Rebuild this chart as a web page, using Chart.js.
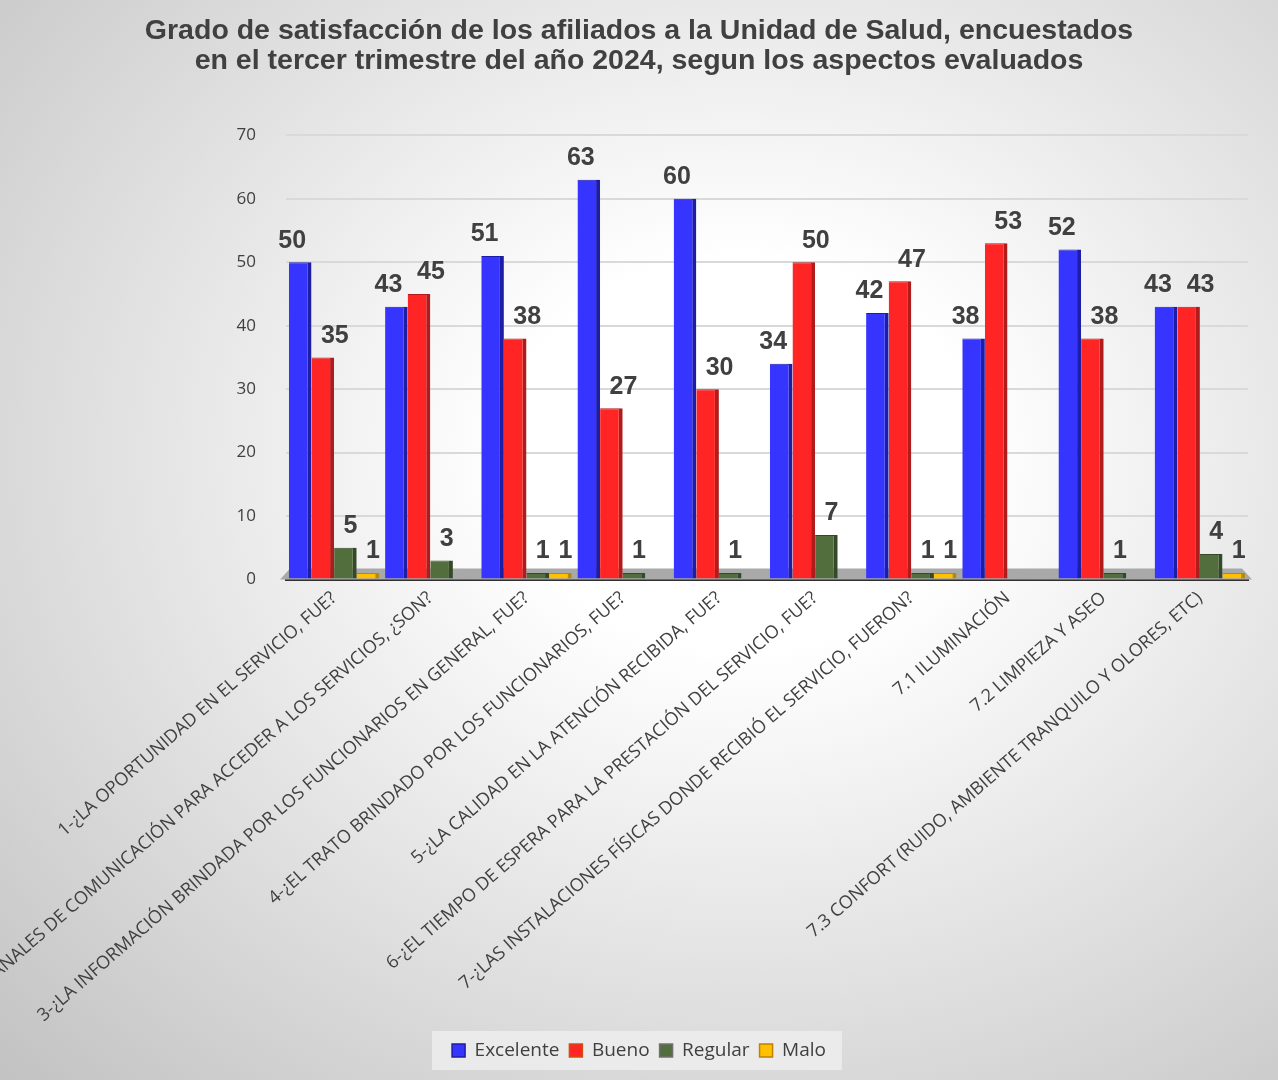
<!DOCTYPE html>
<html>
<head>
<meta charset="utf-8">
<script src="https://cdn.jsdelivr.net/npm/chart.js@4.4.1/dist/chart.umd.min.js"></script>
<style>
  html, body { margin: 0; padding: 0; }
  body {
    width: 1278px; height: 1080px; overflow: hidden;
    background: radial-gradient(ellipse at 58% 42%, #ffffff 22%, #c2c2c2 100%);
  }
  #wrap { position: relative; width: 1278px; height: 1080px; }
</style>
</head>
<body>
<div id="wrap"><canvas id="chart"></canvas></div>
<script>
// categories (aspectos evaluados)
const categories = [
  '1-¿LA OPORTUNIDAD EN EL SERVICIO, FUE?',
  '2-¿LOS CANALES DE COMUNICACIÓN PARA ACCEDER A LOS SERVICIOS, ¿SON?',
  '3-¿LA INFORMACIÓN BRINDADA POR LOS FUNCIONARIOS EN GENERAL, FUE?',
  '4-¿EL TRATO BRINDADO POR LOS FUNCIONARIOS, FUE?',
  '5-¿LA CALIDAD EN LA ATENCIÓN RECIBIDA, FUE?',
  '6-¿EL TIEMPO DE ESPERA PARA LA PRESTACIÓN DEL SERVICIO, FUE?',
  '7-¿LAS INSTALACIONES FÍSICAS DONDE RECIBIÓ EL SERVICIO, FUERON?',
  '7.1 ILUMINACIÓN',
  '7.2 LIMPIEZA Y ASEO',
  '7.3 CONFORT (RUIDO, AMBIENTE TRANQUILO Y OLORES, ETC)'
];

// series values (null = no response in that category)
const excelente = [50, 43, 51, 63, 60, 34, 42, 38, 52, 43];
const bueno     = [35, 45, 38, 27, 30, 50, 47, 53, 38, 43];
const regular   = [5, 3, 1, 1, 1, 7, 1, null, 1, 4];
const malo      = [1, null, 1, null, null, null, 1, null, null, 1];

const yTicks = [0, 10, 20, 30, 40, 50, 60, 70];

const textColor = '#404040';

// gray floor under the bars
const floorPlugin = {
  id: 'floor',
  beforeDatasetsDraw(chart) {
    const { ctx, chartArea } = chart;
    const y0 = chart.scales.y.getPixelForValue(0);
    ctx.save();
    ctx.fillStyle = '#a9a9a9';
    ctx.beginPath();
    ctx.moveTo(chartArea.left + 4, y0 - 11);
    ctx.lineTo(chartArea.right - 6, y0 - 11);
    ctx.lineTo(chartArea.right + 4, y0);
    ctx.lineTo(chartArea.left - 6, y0);
    ctx.closePath();
    ctx.fill();
    ctx.restore();
  }
};

// value labels above each bar (small horizontal nudge per series, like the original)
const labelNudge = [-8, 12, 5, 5];
const valueLabels = {
  id: 'valueLabels',
  afterDatasetsDraw(chart) {
    const { ctx } = chart;
    ctx.save();
    ctx.font = 'bold 25px "Liberation Sans", Arial, sans-serif';
    ctx.fillStyle = textColor;
    ctx.textAlign = 'center';
    ctx.textBaseline = 'bottom';
    chart.data.datasets.forEach((ds, i) => {
      const meta = chart.getDatasetMeta(i);
      meta.data.forEach((bar, j) => {
        const v = ds.data[j];
        if (v === null || v === undefined) return;
        ctx.fillText(String(v), bar.x + labelNudge[i], bar.y - 9);
      });
    });
    ctx.restore();
  }
};

// light box behind the legend
const legendBox = {
  id: 'legendBox',
  beforeDraw(chart) {
    const lg = chart.legend;
    if (!lg || !lg.legendHitBoxes.length) return;
    const boxes = lg.legendHitBoxes;
    const first = boxes[0], last = boxes[boxes.length - 1];
    const { ctx } = chart;
    ctx.save();
    ctx.fillStyle = 'rgba(236,236,236,0.9)';
    ctx.fillRect(first.left - 20, first.top - 10, last.left + last.width - first.left + 36, first.height + 20);
    ctx.restore();
  }
};

const ctx = document.getElementById('chart').getContext('2d');
const chart = new Chart(ctx, {
  type: 'bar',
  data: {
    labels: categories,
    datasets: [
      { label: 'Excelente', data: excelente, backgroundColor: '#3535ff', borderColor: '#1d1da8',
        borderWidth: { left: 0, right: 4, top: 1, bottom: 0 }, borderSkipped: 'bottom' },
      { label: 'Bueno', data: bueno, backgroundColor: '#ff2525', borderColor: '#b01c1c',
        borderWidth: { left: 0, right: 4, top: 1, bottom: 0 }, borderSkipped: 'bottom' },
      { label: 'Regular', data: regular, backgroundColor: '#526e3d', borderColor: '#34492a',
        borderWidth: { left: 0, right: 4, top: 1, bottom: 0 }, borderSkipped: 'bottom' },
      { label: 'Malo', data: malo, backgroundColor: '#ffc000', borderColor: '#b88a00',
        borderWidth: { left: 0, right: 4, top: 1, bottom: 0 }, borderSkipped: 'bottom' }
    ]
  },
  options: {
    responsive: true,
    maintainAspectRatio: false,
    animation: false,
    layout: { padding: { left: 30, right: 30, top: 8, bottom: 10 } },
    datasets: { bar: { categoryPercentage: 0.94, barPercentage: 1.0 } },
    plugins: {
      title: {
        display: true,
        text: ['Grado de satisfacción de los afiliados a la Unidad de Salud, encuestados',
               'en el tercer trimestre del año 2024, segun los aspectos evaluados'],
        color: textColor,
        font: { family: '"Liberation Sans", Arial, sans-serif', size: 28.5, weight: 'bold', lineHeight: 1.06 },
        padding: { top: 8, bottom: 59 }
      },
      legend: {
        position: 'bottom',
        labels: {
          color: textColor,
          boxWidth: 13,
          boxHeight: 13,
          padding: 10,
          font: { family: '"Open Sans", sans-serif', size: 19 },
          generateLabels(chart) {
            return chart.data.datasets.map((ds, i) => ({
              text: ds.label,
              fillStyle: ds.backgroundColor,
              strokeStyle: ['#1d1da8', '#d05010', '#707070', '#c08000'][i],
              lineWidth: 1.5,
              fontColor: textColor,
              datasetIndex: i
            }));
          }
        }
      },
      tooltip: { enabled: false }
    },
    scales: {
      x: {
        grid: { display: false },
        border: { color: '#303030', width: 3 },
        ticks: {
          color: textColor,
          autoSkip: false,
          minRotation: 41,
          maxRotation: 41,
          padding: 0,
          font: { family: '"Open Sans", sans-serif', size: 18 }
        }
      },
      y: {
        min: 0,
        max: 70,
        afterBuildTicks(axis) { axis.ticks = yTicks.map(v => ({ value: v })); },
        afterFit(axis) { axis.width = 256; },
        grid: { color: '#d9d9d9', lineWidth: 2, drawTicks: false },
        border: { display: false },
        ticks: {
          color: textColor,
          padding: 30,
          font: { family: '"Open Sans", sans-serif', size: 17 }
        }
      }
    }
  },
  plugins: [floorPlugin, valueLabels, legendBox]
});
</script>
</body>
</html>
